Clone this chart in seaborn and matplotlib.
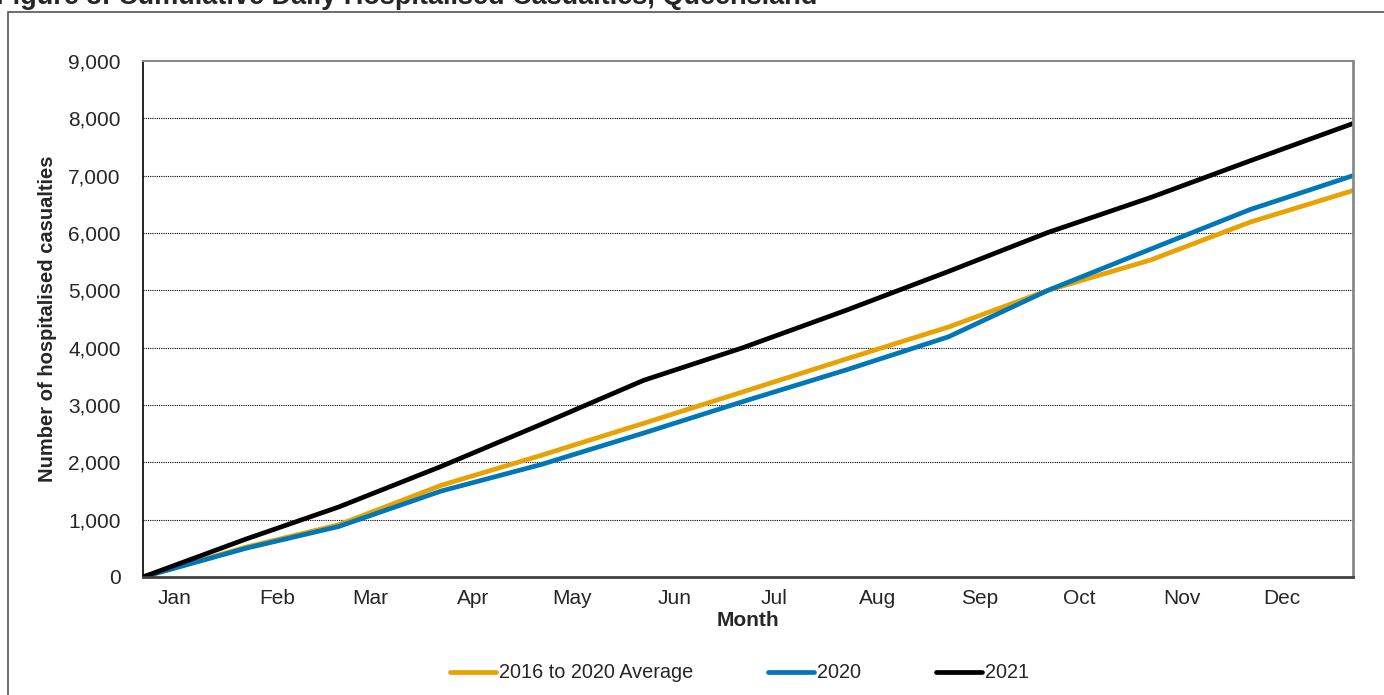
import matplotlib
matplotlib.use("Agg")
import matplotlib.pyplot as plt
import seaborn as sns
import pandas as pd
from matplotlib.patches import Rectangle

# Day of year at which each cumulative value was read
days = [0, 31, 59, 90, 120, 151, 181, 212, 243, 273, 304, 334, 365]

# Cumulative hospitalised casualties
avg_2016_2020 = [0, 520, 910, 1600, 2120, 2680, 3230, 3800, 4360, 5000, 5530, 6190, 6740]
year_2020 = [0, 500, 880, 1500, 1960, 2510, 3060, 3610, 4190, 5000, 5720, 6410, 7000]
year_2021 = [0, 660, 1220, 1930, 2660, 3430, 4000, 4650, 5330, 6010, 6620, 7260, 7910]

months = ["Jan", "Feb", "Mar", "Apr", "May", "Jun",
          "Jul", "Aug", "Sep", "Oct", "Nov", "Dec"]
month_starts = [0, 31, 59, 90, 120, 151, 181, 212, 243, 273, 304, 334]

series = {
    "2016 to 2020 Average": (avg_2016_2020, "#E8A202"),
    "2020": (year_2020, "#0077B6"),
    "2021": (year_2021, "#000000"),
}

sns.set_style("white")
plt.rcParams["font.family"] = ["Liberation Sans", "DejaVu Sans"]

fig = plt.figure(figsize=(13.84, 6.95), dpi=100)
ax = fig.add_axes([0.1033, 0.1698, 0.8743, 0.7424])

for name, (vals, col) in series.items():
    df = pd.DataFrame({"day": days, "value": vals})
    sns.lineplot(data=df, x="day", y="value", ax=ax, color=col,
                 linewidth=3.4, label=name)

ax.set_xlim(0, 365)
ax.set_ylim(0, 9000)
ax.set_yticks(range(0, 9001, 1000))
ax.set_yticklabels([f"{v:,}" for v in range(0, 9001, 1000)], fontsize=15)
ax.set_xticks([d + 9.5 for d in month_starts])
ax.set_xticklabels(months, fontsize=15)
ax.tick_params(axis="x", length=0, pad=9)
ax.tick_params(axis="y", length=6, width=0.8, color="#606060", pad=10)

for v in range(1000, 9000, 1000):
    ax.axhline(v, color="black", linestyle=(0, (1, 1)), linewidth=0.8, zorder=0)

ax.spines["left"].set_color("black")
ax.spines["left"].set_linewidth(1.2)
ax.spines["bottom"].set_color("#404040")
ax.spines["bottom"].set_linewidth(2)
ax.spines["top"].set_color("#8a8a8a")
ax.spines["top"].set_linewidth(1.5)
ax.spines["right"].set_color("#8a8a8a")
ax.spines["right"].set_linewidth(2)

ax.set_xlabel("Month", fontsize=15, fontweight="bold", labelpad=2)
ax.set_ylabel("Number of hospitalised casualties", fontsize=14.5,
              fontweight="bold", labelpad=8)

ax.get_legend().remove()
handles, labels = ax.get_legend_handles_labels()
fig.legend(handles, labels, loc="center", ncol=3, frameon=False,
           bbox_to_anchor=(0.5344, 0.0317), fontsize=14.3, handlelength=2.3,
           handletextpad=0.15, columnspacing=3.8)

# outer chart frame (continues past the crop)
fig.patches.append(Rectangle((0.0058, -0.1), 1.2, 1.0827, transform=fig.transFigure,
                             fill=False, edgecolor="#555555", linewidth=1.2))

# caption cut off at the top of the image
fig.text(-0.003, 0.994, "Figure 8: Cumulative Daily Hospitalised Casualties, Queensland",
         fontsize=19.5, fontweight="bold", ha="left", va="baseline")

fig.savefig("out.png", dpi=100)
